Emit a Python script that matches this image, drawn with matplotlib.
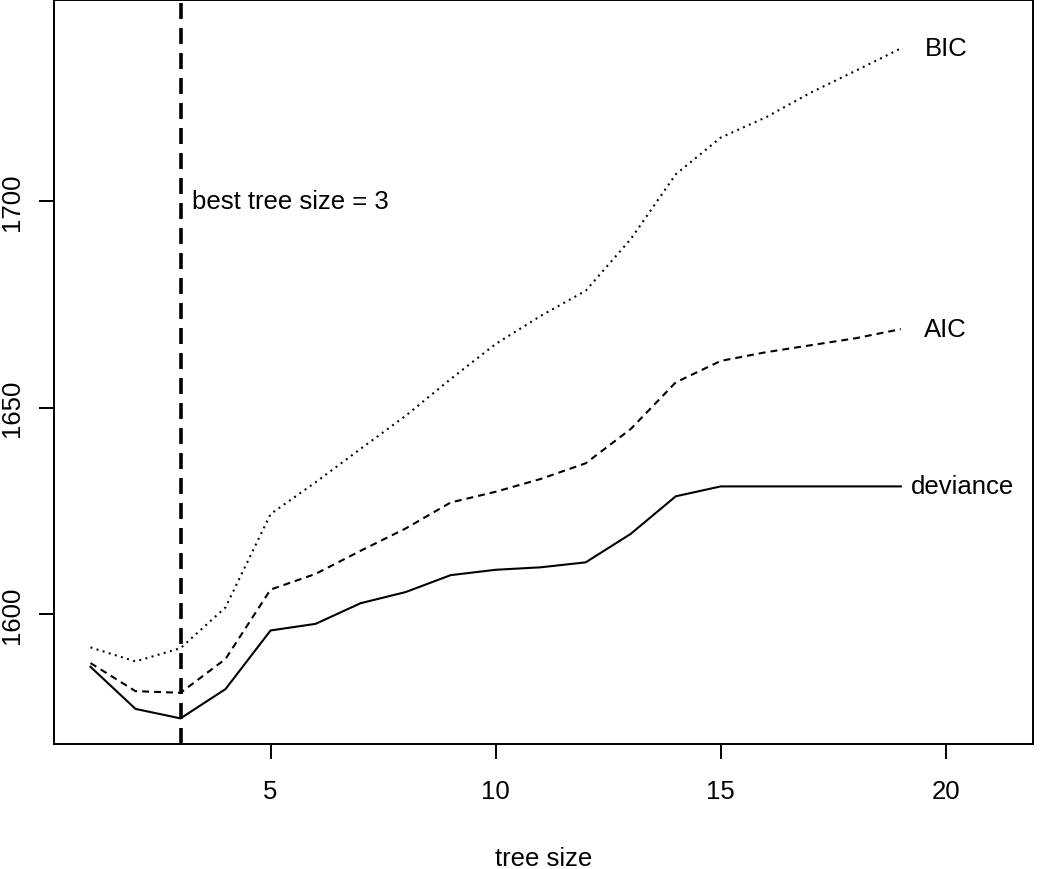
import matplotlib
matplotlib.use("Agg")
import matplotlib.pyplot as plt

plt.rcParams['font.family'] = ['Liberation Sans', 'DejaVu Sans']
plt.rcParams['lines.scale_dashes'] = False

tree_size = list(range(1, 20))
deviance = [1587.2, 1577.0, 1574.7, 1581.8, 1596.0, 1597.6, 1602.6, 1605.3, 1609.4, 1610.7,
            1611.3, 1612.5, 1619.4, 1628.5, 1630.9, 1630.9, 1630.9, 1630.9, 1630.9]
aic = [1588.1, 1581.3, 1580.9, 1589.1, 1605.9, 1609.7, 1615.3, 1620.7, 1627.0, 1629.6,
       1632.7, 1636.5, 1644.8, 1656.1, 1661.3, 1663.4, 1665.1, 1666.8, 1669.0]
bic = [1591.9, 1588.5, 1591.7, 1601.6, 1624.2, 1631.9, 1640.0, 1648.0, 1656.9, 1665.4,
       1672.2, 1678.3, 1690.8, 1706.5, 1715.4, 1720.3, 1726.3, 1731.6, 1737.0]
best_size = 3
series_labels = ["deviance", "AIC", "BIC"]
label_x = [19.22, 19.51, 19.53]
xticks = [5, 10, 15, 20]
yticks = [1600, 1650, 1700]

fig = plt.figure(figsize=(10.5, 8.7), dpi=100)
ax = fig.add_axes([0.051, 0.1437, 0.933, 0.855])

lw = 1.5
ax.plot(tree_size, deviance, color='black', lw=lw, solid_joinstyle='miter')
ax.plot(tree_size, aic, color='black', lw=lw, linestyle=(0, (5.0, 3.6)))
ax.plot(tree_size, bic, color='black', lw=lw, linestyle=(0, (1.4, 3.2)))

ax.axvline(best_size, color='black', lw=2.6, linestyle=(0, (11.5, 6.5)))
ax.text(best_size + 0.25, 1700, "best tree size = %d" % best_size, ha='left', va='center', fontsize=18.5)

for lab, xl, ys in zip(series_labels, label_x, [deviance, aic, bic]):
    ax.text(xl, ys[-1], lab, ha='left', va='center', fontsize=18.5)

ax.set_xlim(0.18, 21.94)
ax.set_ylim(1568.5, 1748.7)
ax.set_xticks(xticks)
ax.set_yticks(yticks)
ax.set_yticklabels([str(v) for v in yticks], rotation=90, va='center')
ax.tick_params(axis='both', length=11, width=1.4, labelsize=18.5, direction='out')
ax.tick_params(axis='x', pad=14)
ax.tick_params(axis='y', pad=10)
for s in ax.spines.values():
    s.set_linewidth(1.4)
ax.set_xlabel("tree size", fontsize=18.5, labelpad=31)

fig.savefig("out.png", dpi=100)
